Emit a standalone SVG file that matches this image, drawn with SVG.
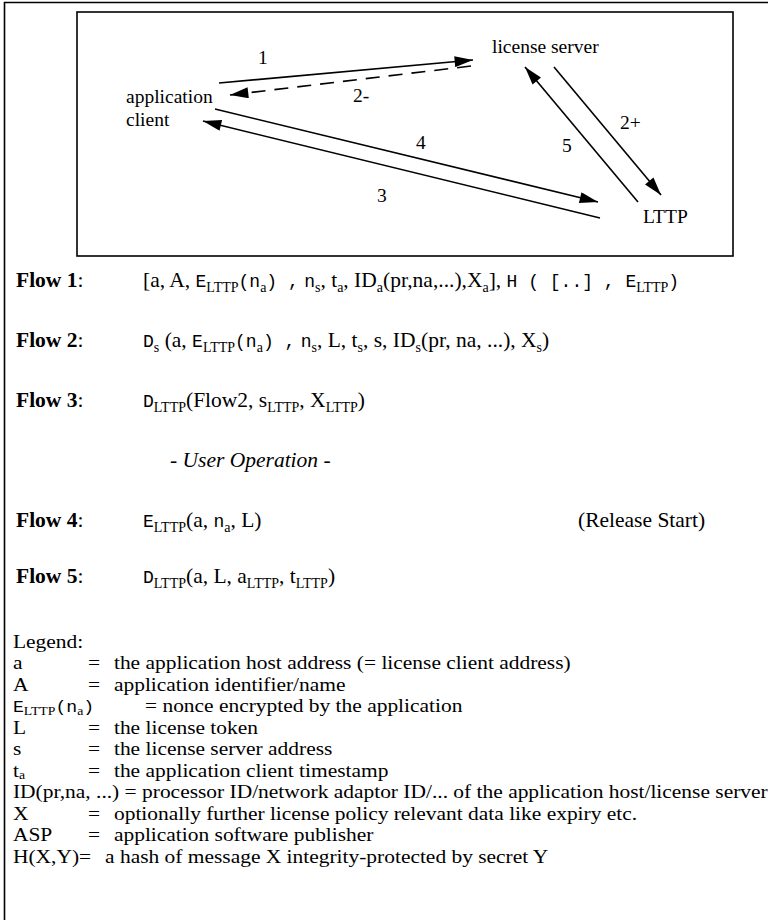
<svg xmlns="http://www.w3.org/2000/svg" width="768" height="920" viewBox="0 0 768 920">
<defs>
<marker id="ah" viewBox="0 0 20 12" refX="20" refY="6" markerWidth="20" markerHeight="11" markerUnits="userSpaceOnUse" orient="auto">
<path d="M0,0 L20,6 L0,12 Z" fill="#000"/>
</marker>
</defs>
<style>
text{font-family:"Liberation Serif","Times New Roman",serif;font-size:21.5px;fill:#000}
.d{font-size:19.5px}
.b{font-weight:bold}
.m{font-family:"Liberation Mono","Courier New",monospace;font-size:18px}
.i{font-style:italic}
.sub{font-size:14px}
#legend text{font-size:19.5px}
#legend .sub{font-size:12.5px}
#legend .m{font-size:16.5px}
.ln{stroke:#000;stroke-width:1.6;fill:none}
.dash{stroke-dasharray:14,9}
</style>
<rect width="768" height="920" fill="#fff"/>
<g id="frame">
<path d="M4.5,920 L4.5,2.5 L768,2.5" class="ln" stroke-width="2.5"/>
<rect x="77" y="12" width="656" height="244" class="ln" stroke-width="2"/>
</g>
<g id="connectors">
<line x1="219" y1="83" x2="473" y2="60" class="ln" marker-end="url(#ah)"/>
<line x1="471" y1="66" x2="230" y2="95" class="ln dash" marker-end="url(#ah)"/>
<line x1="215" y1="109" x2="598" y2="202" class="ln" marker-end="url(#ah)"/>
<line x1="600" y1="218" x2="203" y2="121" class="ln" marker-end="url(#ah)"/>
<line x1="554" y1="67" x2="661" y2="195" class="ln" marker-end="url(#ah)"/>
<line x1="638" y1="202" x2="525" y2="67" class="ln" marker-end="url(#ah)"/>
<text class="d" x="258" y="64">1</text>
<text class="d" x="353" y="102">2-</text>
<text class="d" x="620" y="129">2+</text>
<text class="d" x="416" y="149">4</text>
<text class="d" x="562" y="152">5</text>
<text class="d" x="377" y="202">3</text>
</g>
<g id="license-server"><text class="d" x="492" y="53">license server</text></g>
<g id="application-client"><text class="d" x="126" y="103">application</text><text class="d" x="126" y="126">client</text></g>
<g id="lttp"><text class="d" x="643" y="223">LTTP</text></g>
<g id="flows">
<text x="16" y="287"><tspan class="b">Flow 1</tspan>:</text>
<text x="143" y="287">[a, A, <tspan class="m">E</tspan><tspan class="sub" dy="5">LTTP</tspan><tspan class="m" dy="-5">(n</tspan><tspan class="sub" dy="5">a</tspan><tspan class="m" dy="-5">) ,</tspan>  <tspan class="m">n</tspan><tspan class="sub" dy="5">s</tspan><tspan dy="-5">, t</tspan><tspan class="sub" dy="5">a</tspan><tspan dy="-5">, ID</tspan><tspan class="sub" dy="5">a</tspan><tspan dy="-5">(pr,na,...),X</tspan><tspan class="sub" dy="5">a</tspan><tspan dy="-5">], </tspan><tspan class="m">H ( [..] , E</tspan><tspan class="sub" dy="5">LTTP</tspan><tspan class="m" dy="-5">)</tspan></text>
<text x="16" y="347"><tspan class="b">Flow 2</tspan>:</text>
<text x="143" y="347"><tspan class="m">D</tspan><tspan class="sub" dy="5">s</tspan><tspan dy="-5"> (a, </tspan><tspan class="m">E</tspan><tspan class="sub" dy="5">LTTP</tspan><tspan class="m" dy="-5">(n</tspan><tspan class="sub" dy="5">a</tspan><tspan class="m" dy="-5">) ,</tspan>  <tspan class="m">n</tspan><tspan class="sub" dy="5">s</tspan><tspan dy="-5">, L, t</tspan><tspan class="sub" dy="5">s</tspan><tspan dy="-5">, s, ID</tspan><tspan class="sub" dy="5">s</tspan><tspan dy="-5">(pr, na, ...), X</tspan><tspan class="sub" dy="5">s</tspan><tspan dy="-5">)</tspan></text>
<text x="16" y="407"><tspan class="b">Flow 3</tspan>:</text>
<text x="143" y="407"><tspan class="m">D</tspan><tspan class="sub" dy="5">LTTP</tspan><tspan dy="-5">(Flow2, s</tspan><tspan class="sub" dy="5">LTTP</tspan><tspan dy="-5">, X</tspan><tspan class="sub" dy="5">LTTP</tspan><tspan dy="-5">)</tspan></text>
<text x="170" y="467" class="i">- User Operation -</text>
<text x="16" y="527"><tspan class="b">Flow 4</tspan>:</text>
<text x="143" y="527"><tspan class="m">E</tspan><tspan class="sub" dy="5">LTTP</tspan><tspan dy="-5">(a, </tspan><tspan class="m">n</tspan><tspan class="sub" dy="5">a</tspan><tspan dy="-5">, L)</tspan></text>
<text x="578" y="527">(Release Start)</text>
<text x="16" y="583"><tspan class="b">Flow 5</tspan>:</text>
<text x="143" y="583"><tspan class="m">D</tspan><tspan class="sub" dy="5">LTTP</tspan><tspan dy="-5">(a, L, a</tspan><tspan class="sub" dy="5">LTTP</tspan><tspan dy="-5">, t</tspan><tspan class="sub" dy="5">LTTP</tspan><tspan dy="-5">)</tspan></text>
</g>
<g id="legend" transform="scale(1.1,1)">
<text x="11.8" y="648">Legend:</text>
<text x="11.8" y="669.5">a</text><text x="80" y="669.5">=</text><text x="103.6" y="669.5">the application host address (= license client address)</text>
<text x="11.8" y="691">A</text><text x="80" y="691">=</text><text x="103.6" y="691">application identifier/name</text>
<text x="11.8" y="712.5"><tspan class="m">E</tspan><tspan class="sub" dy="3">LTTP</tspan><tspan class="m" dy="-3">(n</tspan><tspan class="sub" dy="3">a</tspan><tspan class="m" dy="-3">)</tspan></text><text x="131.8" y="712.5">= nonce encrypted by the application</text>
<text x="11.8" y="734">L</text><text x="80" y="734">=</text><text x="103.6" y="734">the license token</text>
<text x="11.8" y="755.5">s</text><text x="80" y="755.5">=</text><text x="103.6" y="755.5">the license server address</text>
<text x="11.8" y="777">t<tspan class="sub" dy="2">a</tspan></text><text x="80" y="777">=</text><text x="103.6" y="777">the application client timestamp</text>
<text x="11.8" y="798.5">ID(pr,na, ...) = processor ID/network adaptor ID/... of the application host/license server</text>
<text x="11.8" y="820">X</text><text x="80" y="820">=</text><text x="103.6" y="820">optionally further license policy relevant data like expiry etc.</text>
<text x="11.8" y="841.5">ASP</text><text x="80" y="841.5">=</text><text x="103.6" y="841.5">application software publisher</text>
<text x="11.8" y="863">H(X,Y)=</text><text x="95.5" y="863">a hash of message X integrity-protected by secret Y</text>
</g>
</svg>
